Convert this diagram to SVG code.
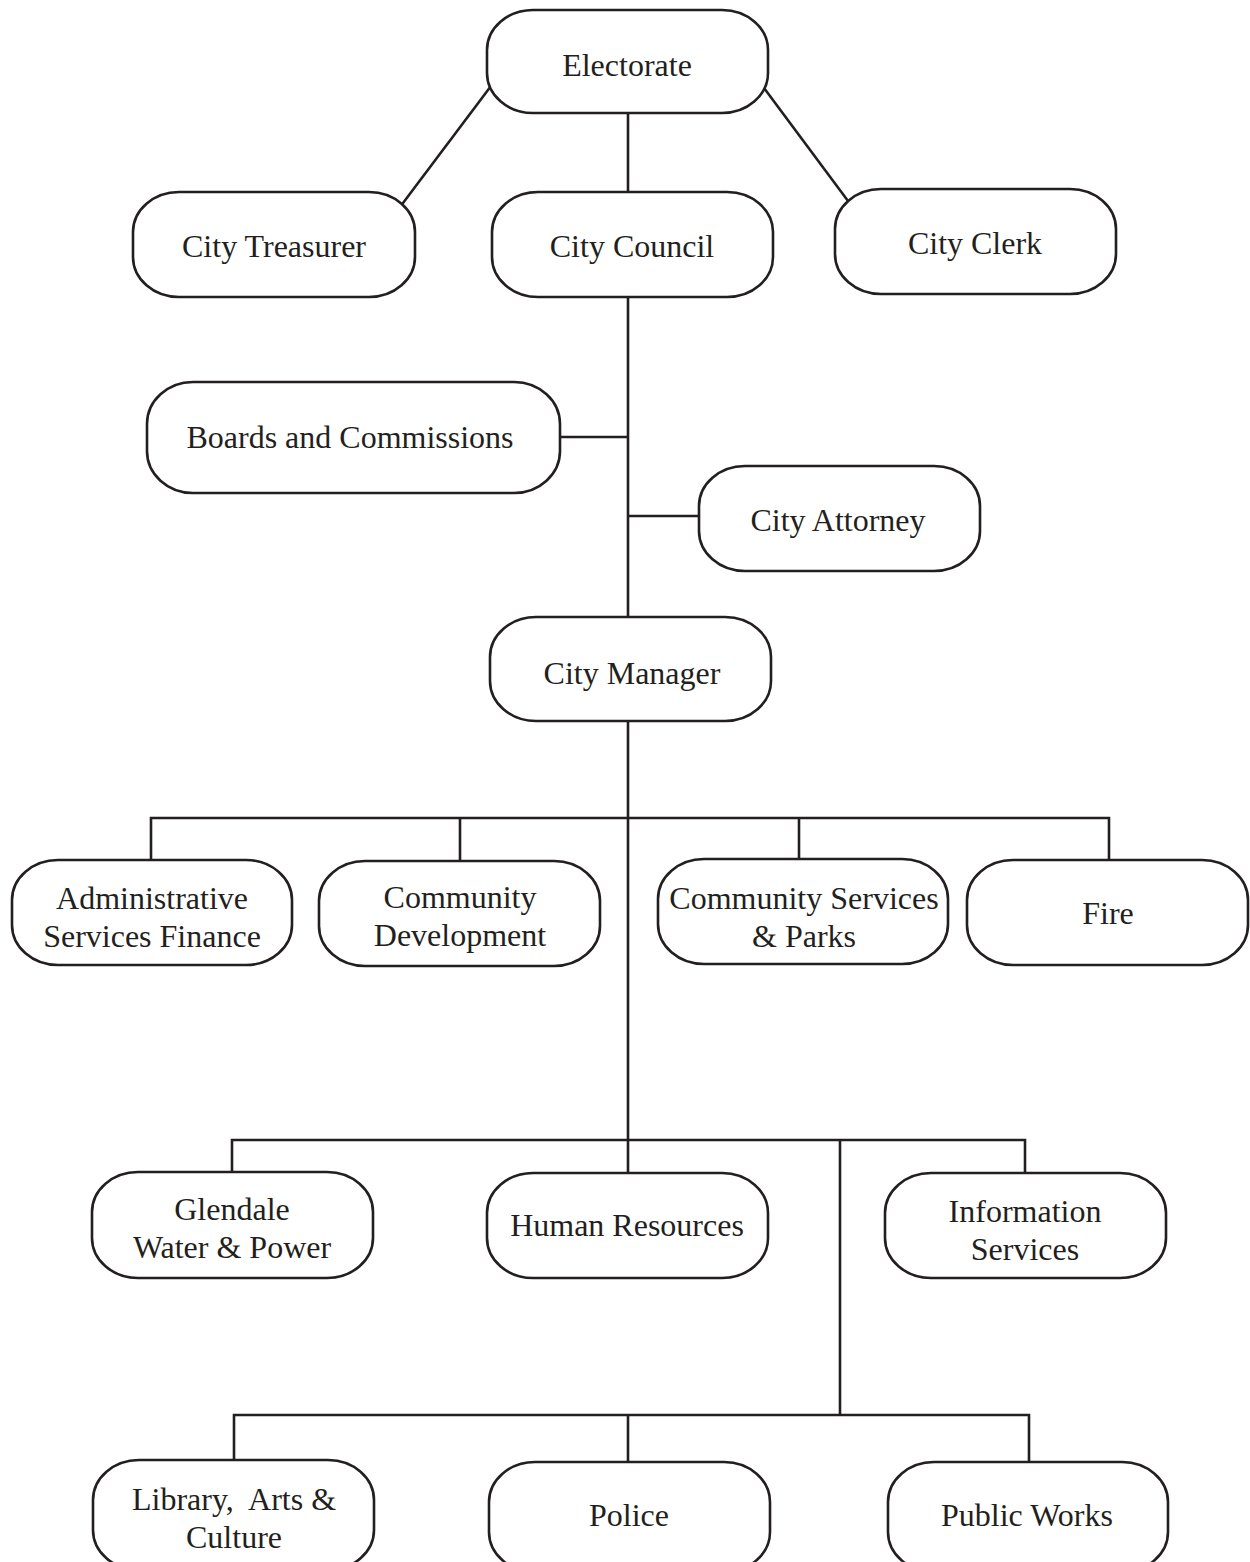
<svg xmlns="http://www.w3.org/2000/svg" width="1250" height="1562" viewBox="0 0 1250 1562">
<style>
.box{fill:#fff;stroke:#231f20;stroke-width:2.6}
.ln{fill:none;stroke:#231f20;stroke-width:2.6}
text{font-family:"Liberation Serif","Times New Roman",serif;font-size:32px;fill:#231f20;text-anchor:middle}
</style>
<rect width="1250" height="1562" fill="#fff"/>
<g id="connectors" class="ln">
<line x1="628" y1="113" x2="628" y2="192"/>
<line x1="400" y1="207" x2="491" y2="86"/>
<line x1="764" y1="88" x2="851" y2="205"/>
<line x1="628" y1="297" x2="628" y2="617"/>
<line x1="560" y1="437" x2="628" y2="437"/>
<line x1="628" y1="516" x2="699" y2="516"/>
<line x1="628" y1="721" x2="628" y2="1173"/>
<polyline points="151,860 151,818 1109,818 1109,860"/>
<line x1="460" y1="818" x2="460" y2="861"/>
<line x1="799" y1="818" x2="799" y2="859"/>
<polyline points="232,1172 232,1140 1025,1140 1025,1173"/>
<line x1="840" y1="1140" x2="840" y2="1415"/>
<polyline points="234,1460 234,1415 1029,1415 1029,1462"/>
<line x1="628" y1="1415" x2="628" y2="1462"/>
</g>
<g id="electorate"><rect class="box" x="487" y="10" width="281" height="103" rx="46" ry="40"/><text x="627" y="76">Electorate</text></g>
<g id="city-treasurer"><rect class="box" x="133" y="192" width="282" height="105" rx="46" ry="40"/><text x="274" y="257">City Treasurer</text></g>
<g id="city-council"><rect class="box" x="492" y="192" width="281" height="105" rx="46" ry="40"/><text x="632" y="257">City Council</text></g>
<g id="city-clerk"><rect class="box" x="835" y="189" width="281" height="105" rx="46" ry="40"/><text x="975" y="254">City Clerk</text></g>
<g id="boards"><rect class="box" x="147" y="382" width="413" height="111" rx="46" ry="42"/><text x="350" y="448">Boards and Commissions</text></g>
<g id="city-attorney"><rect class="box" x="699" y="466" width="281" height="105" rx="46" ry="40"/><text x="838" y="531">City Attorney</text></g>
<g id="city-manager"><rect class="box" x="490" y="617" width="281" height="104" rx="46" ry="40"/><text x="632" y="684">City Manager</text></g>
<g id="admin-services"><rect class="box" x="12" y="860" width="280" height="105" rx="46" ry="40"/><text x="152" y="909">Administrative</text><text x="152" y="947">Services Finance</text></g>
<g id="community-development"><rect class="box" x="319" y="861" width="281" height="105" rx="46" ry="40"/><text x="460" y="908">Community</text><text x="460" y="946">Development</text></g>
<g id="community-services"><rect class="box" x="658" y="859" width="290" height="105" rx="46" ry="40"/><text x="804" y="909">Community Services</text><text x="804" y="947">&amp; Parks</text></g>
<g id="fire"><rect class="box" x="967" y="860" width="281" height="105" rx="46" ry="40"/><text x="1108" y="924">Fire</text></g>
<g id="glendale-water-power"><rect class="box" x="92" y="1172" width="281" height="106" rx="46" ry="40"/><text x="232" y="1220">Glendale</text><text x="232" y="1258">Water &amp; Power</text></g>
<g id="human-resources"><rect class="box" x="487" y="1173" width="281" height="105" rx="46" ry="40"/><text x="627" y="1236">Human Resources</text></g>
<g id="information-services"><rect class="box" x="885" y="1173" width="281" height="105" rx="46" ry="40"/><text x="1025" y="1222">Information</text><text x="1025" y="1260">Services</text></g>
<g id="library"><rect class="box" x="93" y="1460" width="281" height="110" rx="46" ry="40"/><text x="234" y="1510">Library,&#160; Arts &amp;</text><text x="234" y="1548">Culture</text></g>
<g id="police"><rect class="box" x="489" y="1462" width="281" height="110" rx="46" ry="40"/><text x="629" y="1526">Police</text></g>
<g id="public-works"><rect class="box" x="888" y="1462" width="280" height="110" rx="46" ry="40"/><text x="1027" y="1526">Public Works</text></g>
</svg>
